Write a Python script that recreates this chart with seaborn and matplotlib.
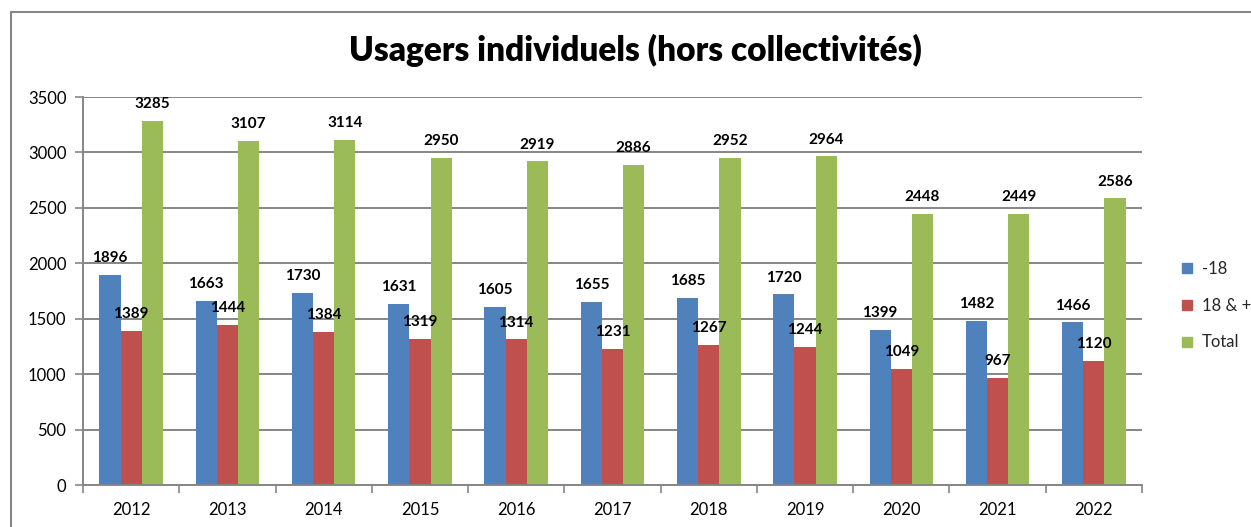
import pandas as pd
import matplotlib.pyplot as plt
import seaborn as sns
from matplotlib.lines import Line2D

# -------------------------------------------------
# Data
# -------------------------------------------------
years = ["2012", "2013", "2014", "2015", "2016", "2017", "2018", "2019", "2020", "2021", "2022"]
moins_18 = [1896, 1663, 1730, 1631, 1605, 1655, 1685, 1720, 1399, 1482, 1466]
plus_18 = [1389, 1444, 1384, 1319, 1314, 1231, 1267, 1244, 1049, 967, 1120]
total = [3285, 3107, 3114, 2950, 2919, 2886, 2952, 2964, 2448, 2449, 2586]
series_names = ["-18", "18 & +", "Total"]

df = pd.DataFrame({
    "Année": years * 3,
    "Série": [series_names[0]] * len(years) + [series_names[1]] * len(years) + [series_names[2]] * len(years),
    "Usagers": moins_18 + plus_18 + total,
})

colors = ["#4F81BD", "#C0504D", "#9BBB59"]
grid_col = "#868686"

sns.set_theme(style="white")
plt.rcParams["font.family"] = ["Lato", "DejaVu Sans"]

fig = plt.figure(figsize=(12.51, 5.27), dpi=100)
ax = fig.add_axes([83 / 1251, 42 / 527, (1142 - 83) / 1251, (485 - 97) / 527])

sns.barplot(data=df, x="Année", y="Usagers", hue="Série", palette=colors,
            width=0.66, gap=0, linewidth=0, saturation=1, ax=ax)

for cont in ax.containers:
    ax.bar_label(cont, padding=7, fontsize=11, fontweight="bold", color="black")

ax.set_ylim(0, 3500)
ax.set_xlim(-0.5, len(years) - 0.5)
ax.set_yticks(range(0, 3501, 500))
ax.set_xticks([i - 0.5 for i in range(len(years) + 1)], minor=True)
ax.tick_params(axis="x", which="major", length=0, labelsize=12, pad=12, labelcolor="black")
ax.tick_params(axis="x", which="minor", length=6, width=1.2, color=grid_col, direction="out", bottom=True)
ax.tick_params(axis="y", length=6, width=1.2, color=grid_col, direction="out", left=True,
               labelsize=12, pad=6, labelcolor="black")
ax.yaxis.grid(True, color=grid_col, linewidth=1.4)
ax.set_axisbelow(True)
for s in ["top", "right"]:
    ax.spines[s].set_visible(False)
for s in ["left", "bottom"]:
    ax.spines[s].set_color(grid_col)
    ax.spines[s].set_linewidth(1.4)
ax.set_xlabel("")
ax.set_ylabel("")

# legend on the right
handles = [Line2D([], [], marker="s", linestyle="", markersize=7, color=c) for c in colors]
ax.legend(handles, series_names, loc="center left", bbox_to_anchor=(1165 / 1251, 0.42),
          bbox_transform=fig.transFigure, frameon=False, fontsize=12,
          labelspacing=1.25, handlelength=0.8, handletextpad=0.5)

fig.text(635 / 1251, 1 - 50 / 527, "Usagers individuels (hors collectivités)",
         ha="center", va="center", fontsize=24, fontweight="heavy", color="black")

# chart area border (Excel-style frame)
fig.add_artist(Line2D([11 / 1251, 1], [1 - 12 / 527, 1 - 12 / 527], color="#878787", linewidth=1.5))
fig.add_artist(Line2D([11 / 1251, 11 / 1251], [0, 1 - 12 / 527], color="#878787", linewidth=1.5))

fig.savefig("out.png", dpi=100)
